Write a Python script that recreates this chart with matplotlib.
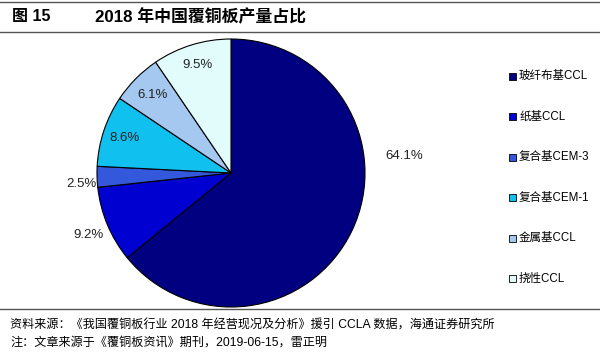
import numpy as np
import matplotlib
matplotlib.use("Agg")
import matplotlib.pyplot as plt
from matplotlib.lines import Line2D

plt.rcParams['font.family'] = ['Liberation Sans', 'Noto Sans CJK SC', 'DejaVu Sans']

categories = ['玻纤布基CCL', '纸基CCL', '复合基CEM-3', '复合基CEM-1', '金属基CCL', '挠性CCL']
shares = [64.1, 9.2, 2.5, 8.6, 6.1, 9.5]
colors = ['#000080', '#0000d0', '#3358dc', '#10c0ee', '#a4c8f0', '#e2fbfb']
# label placement (angle in degrees, distance in radii); None -> mid-angle of the wedge
label_ang = [5.6, 203.4, 184.2, None, None, None]
label_dist = [1.30, 1.16, 1.12, 0.84, 0.83, 0.84]

fig = plt.figure(figsize=(6, 3.52), dpi=100)
W, H = 600, 352

# header / footer rules
fig.add_artist(Line2D([0, 1], [1 - 2 / H, 1 - 2 / H], color='#555555', lw=1.0))
fig.add_artist(Line2D([0, 1], [1 - 32 / H, 1 - 32 / H], color='#555555', lw=1.0))
fig.add_artist(Line2D([0, 1], [1 - 309 / H, 1 - 309 / H], color='#555555', lw=1.0))

fig.text(12 / W, 1 - 17 / H, '图 15', fontsize=11.5, fontweight='bold', va='center')
fig.text(95 / W, 1 - 17 / H, '2018 年中国覆铜板产量占比', fontsize=12.2, fontweight='bold', va='center')

# pie
cx, cy, r = 231, 173, 134
ax = fig.add_axes([(cx - r) / W, 1 - (cy + r) / H, 2 * r / W, 2 * r / H])
wedges, _ = ax.pie(shares, colors=colors, startangle=90, counterclock=False,
                   wedgeprops=dict(edgecolor='black', linewidth=0.8))
ax.set_aspect('equal')
ax.set_xlim(-1, 1)
ax.set_ylim(-1, 1)
ax.set_zorder(1)

for w, v, a, d in zip(wedges, shares, label_ang, label_dist):
    if a is None:
        a = (w.theta1 + w.theta2) / 2
    ang = np.deg2rad(a)
    ax.text(d * np.cos(ang), d * np.sin(ang), f'{v:.1f}%', fontsize=9.5,
            ha='center', va='center', color='#222222', clip_on=False)

# legend
for i, (c, name) in enumerate(zip(colors, categories)):
    y = 1 - (76 + i * 40.5) / H
    fig.patches.append(plt.Rectangle((509 / W, y - 3.5 / H), 7 / W, 7 / H,
                                     facecolor=c, edgecolor='black', lw=0.6,
                                     transform=fig.transFigure))
    fig.text(519 / W, y, name, fontsize=8.3, va='center')

fig.text(10 / W, 1 - 326 / H, '资料来源：《我国覆铜板行业 2018 年经营现况及分析》援引 CCLA 数据，海通证券研究所',
         fontsize=8.7, va='center')
fig.text(10 / W, 1 - 343 / H, '注：文章来源于《覆铜板资讯》期刊，2019-06-15，雷正明',
         fontsize=8.7, va='center')

fig.savefig('out.png', dpi=100)
